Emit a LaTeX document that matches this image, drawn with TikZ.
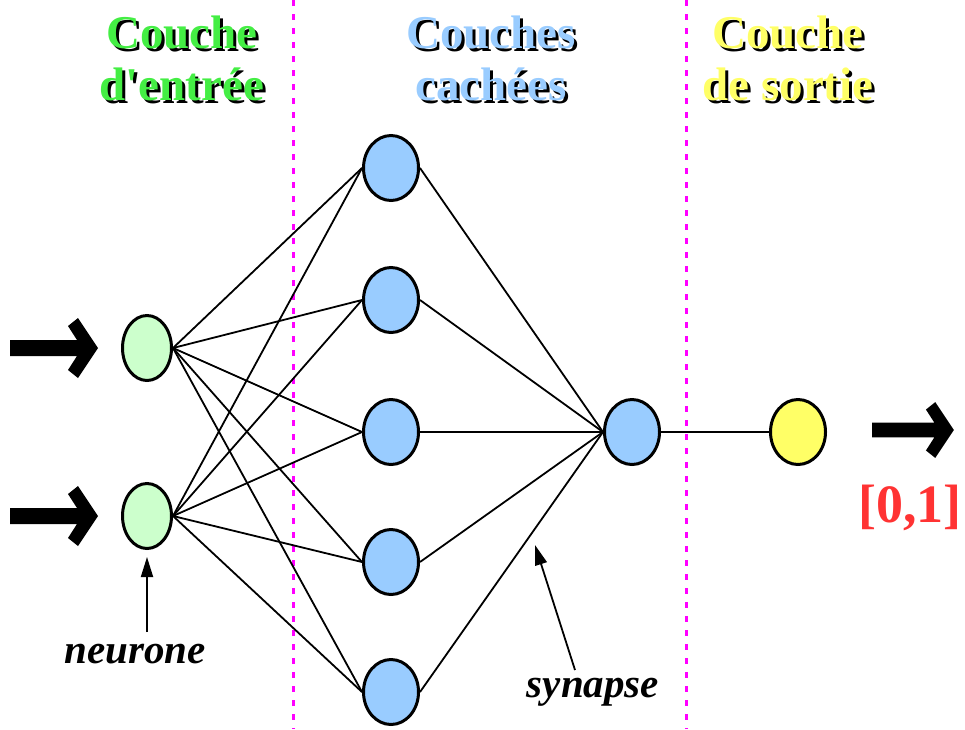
\documentclass[tikz,border=0pt]{standalone}
\usepackage{fontspec}
\setmainfont{Liberation Serif}
\usetikzlibrary{shapes.geometric,arrows.meta}
\definecolor{tgreen}{HTML}{44EE44}
\definecolor{tblue}{HTML}{99CCFF}
\definecolor{tyellow}{HTML}{FFFF66}
\definecolor{ngreen}{HTML}{CCFFCC}
\definecolor{nblue}{HTML}{99CCFF}
\definecolor{nyellow}{HTML}{FFFF66}
\definecolor{tred}{HTML}{FF3333}
\definecolor{mag}{HTML}{FF00FF}
\newcommand\shadowtxt[2]{\rlap{\kern3pt\raisebox{-3pt}{\textcolor{black}{#2}}}\textcolor{#1}{#2}}
\begin{document}
\begin{tikzpicture}[x=1pt,y=-1pt,
  neuron/.style={ellipse, draw=black, line width=3pt, inner sep=0pt, minimum width=55pt, minimum height=65pt},
  inneuron/.style={neuron, fill=ngreen, minimum width=49pt},
  hidneuron/.style={neuron, fill=nblue},
  outneuron/.style={neuron, fill=nyellow},
  title/.style={font=\fontsize{47}{52}\selectfont\bfseries, anchor=base, inner sep=0pt, align=center},
  lab/.style={font=\fontsize{41}{44}\selectfont\bfseries\itshape, anchor=base, inner sep=0pt},
  synline/.style={line width=1.8pt},
  pointer/.style={line width=1.8pt, -{Triangle[length=20pt,width=12pt]}},
  sep/.style={mag, line width=3pt, dash pattern=on 6pt off 8pt},
  bigarrow/.pic={\fill[black] (0,-8) -- (67,-8) -- (58,-22) -- (68,-30) -- (88,0) -- (68,30) -- (58,22) -- (67,8) -- (0,8) -- cycle;}
]
\useasboundingbox (0,0) rectangle (965,729);
% separators
\draw[sep] (293,0) -- (293,729);
\draw[sep] (686,0) -- (686,729);
% titles
\node[title] (t1) at (182,100) {\shadowtxt{tgreen}{Couche}\\\shadowtxt{tgreen}{d\textquotesingle entrée}};
\node[title] (t2) at (491,100) {\shadowtxt{tblue}{Couches}\\\shadowtxt{tblue}{cachées}};
\node[title] (t3) at (788,100) {\shadowtxt{tyellow}{Couche}\\\shadowtxt{tyellow}{de sortie}};
% neurons
\node[inneuron] (in1) at (147,348) {};
\node[inneuron] (in2) at (147,516) {};
\node[hidneuron] (h1) at (391,168) {};
\node[hidneuron] (h2) at (391,300) {};
\node[hidneuron] (h3) at (391,432) {};
\node[hidneuron] (h4) at (391,562) {};
\node[hidneuron] (h5) at (391,692) {};
\node[hidneuron] (out) at (632,432) {};
\node[outneuron] (fin) at (798,432) {};
% synapses
\foreach \i in {1,2} {\foreach \j in {1,...,5} {\draw[synline] (in\i.east) -- (h\j.west);}}
\foreach \j in {1,...,5} {\draw[synline] (h\j.east) -- (out.west);}
\draw[line width=2.8pt] (out.east) -- (fin.west);
% big arrows
\pic at (10,348) {bigarrow};
\pic at (10,516) {bigarrow};
\pic[scale=0.93] at (872,430) {bigarrow};
% labels
\node[font=\fontsize{54}{56}\selectfont\bfseries, text=tred, anchor=base, inner sep=0pt] (range) at (910,522) {[0,1]};
\node[lab] (neur) at (135,663) {neurone};
\node[lab] (syn) at (593,697) {synapse};
\coordinate (na) at (147,632);
\coordinate (sa) at (575,670);
\coordinate (st) at (535,545);
\draw[pointer, shorten >=7pt] (na) -- (in2.south);
\draw[pointer] (sa) -- (st);
\end{tikzpicture}
\end{document}
